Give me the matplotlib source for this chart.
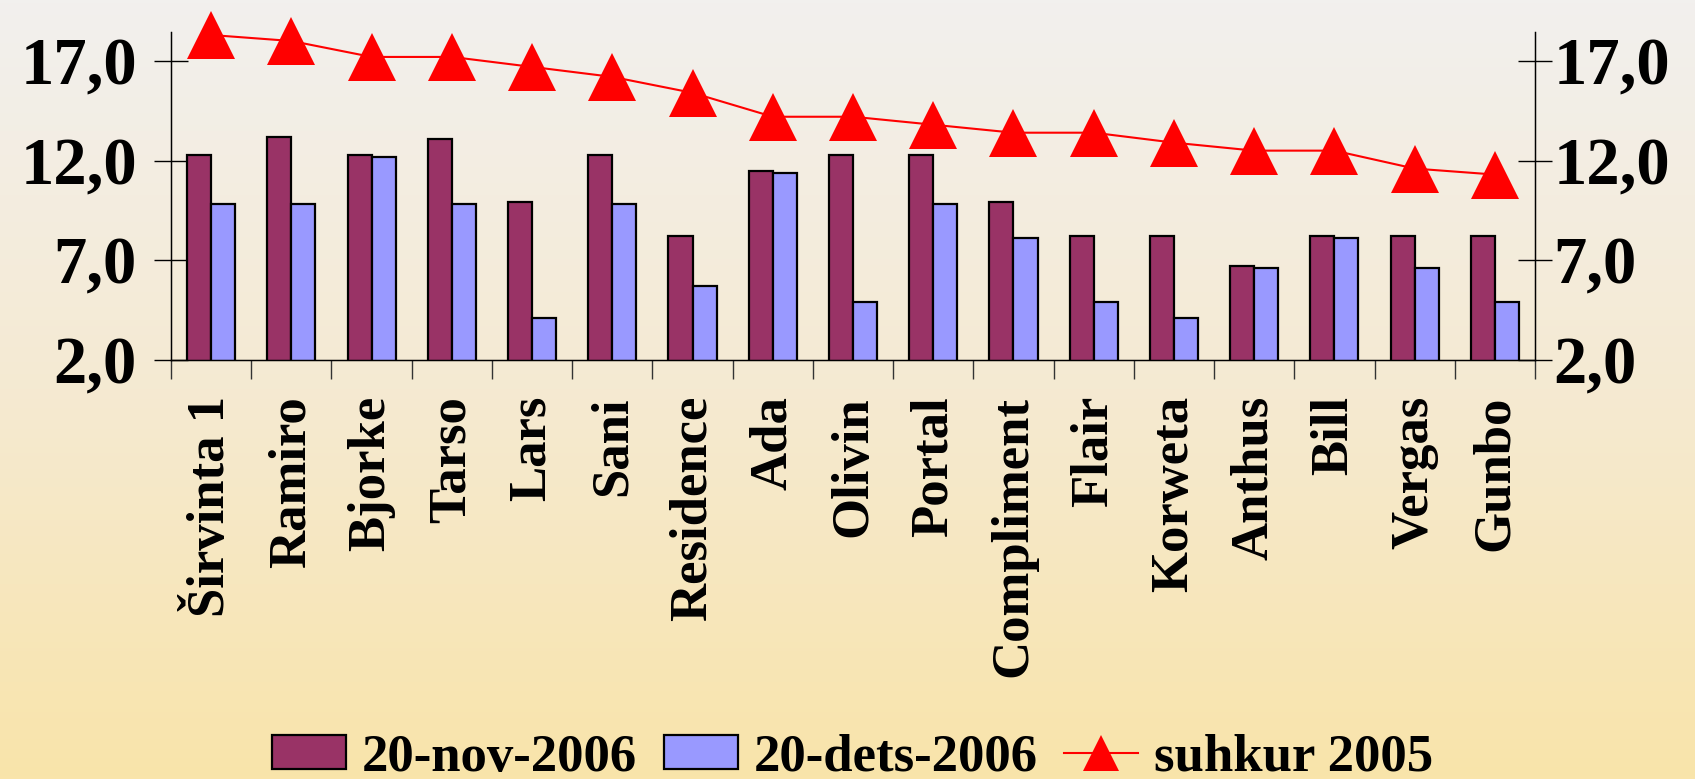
import numpy as np
import matplotlib
matplotlib.use('Agg')
import matplotlib.pyplot as plt
from matplotlib.colors import LinearSegmentedColormap
from matplotlib.lines import Line2D
from matplotlib.patches import Patch

categories = ["Širvinta 1", "Ramiro", "Bjorke", "Tarso", "Lars", "Sani", "Residence",
              "Ada", "Olivin", "Portal", "Compliment", "Flair", "Korweta", "Anthus",
              "Bill", "Vergas", "Gunbo"]
nov_2006 = [12.3, 13.2, 12.3, 13.1, 9.9, 12.3, 8.2, 11.5, 12.3, 12.3, 9.9, 8.2, 8.2, 6.7, 8.2, 8.2, 8.2]
dets_2006 = [9.8, 9.8, 12.2, 9.8, 4.1, 9.8, 5.7, 11.4, 4.9, 9.8, 8.1, 4.9, 4.1, 6.6, 8.1, 6.6, 4.9]
suhkur_2005 = [18.3, 18.0, 17.2, 17.2, 16.7, 16.2, 15.4, 14.2, 14.2, 13.8, 13.4, 13.4, 12.9, 12.5, 12.5, 11.6, 11.3]
yticks = [2.0, 7.0, 12.0, 17.0]
ytick_labels = ["2,0", "7,0", "12,0", "17,0"]
series_labels = ["20-nov-2006", "20-dets-2006", "suhkur 2005"]

C_NOV = "#993366"
C_DETS = "#9999FF"
C_LINE = "#FF0000"
FONT = "Liberation Serif"

fig = plt.figure(figsize=(16.95, 7.79), dpi=100)

# background gradient
bg = fig.add_axes([0, 0, 1, 1], zorder=-10)
cmap = LinearSegmentedColormap.from_list(
    "bg", [(0.0, (242/255, 240/255, 238/255)),
           (0.5, (245/255, 234/255, 210/255)),
           (1.0, (249/255, 228/255, 170/255))])
grad = np.linspace(0, 1, 256).reshape(-1, 1)
bg.imshow(grad, aspect="auto", cmap=cmap, extent=[0, 1, 0, 1], origin="upper")
bg.set_axis_off()

ax = fig.add_axes([0.1009, 0.5379, 0.8047, 0.4210])
ax.patch.set_alpha(0)
x = np.arange(len(categories))
w = 0.3
ax.bar(x - w / 2, nov_2006, width=w, bottom=0, color=C_NOV, edgecolor="black", linewidth=1.6, zorder=2)
ax.bar(x + w / 2, dets_2006, width=w, bottom=0, color=C_DETS, edgecolor="black", linewidth=1.6, zorder=2)
ax.plot(x, suhkur_2005, color=C_LINE, linewidth=1.5, marker="^", markersize=34,
        markeredgewidth=0, clip_on=False, zorder=3)

ax.set_xlim(-0.5, len(categories) - 0.5)
ax.set_ylim(2.0, 18.45)

ax.spines["top"].set_visible(False)
for s in ["left", "right", "bottom"]:
    ax.spines[s].set_linewidth(1.0)
    ax.spines[s].set_color("black")

ax.set_xticks(x)
ax.set_xticklabels(categories, rotation=90, fontfamily=FONT, fontweight="bold", fontsize=38)
ax.tick_params(axis="x", which="major", length=0, pad=26)
ax.set_xticks(np.arange(-0.5, len(categories), 1.0), minor=True)
ax.tick_params(axis="x", which="minor", length=14, width=1.0, direction="out", color="#333333")

ax.set_yticks(yticks)
ax.set_yticklabels(ytick_labels, fontfamily=FONT, fontweight="bold", fontsize=48)
ax.tick_params(axis="y", which="major", length=25, width=1.0, direction="inout", pad=12)

ax2 = ax.twinx()
ax2.patch.set_alpha(0)
ax2.set_ylim(ax.get_ylim())
ax2.spines["top"].set_visible(False)
ax2.set_yticks(yticks)
ax2.set_yticklabels(ytick_labels, fontfamily=FONT, fontweight="bold", fontsize=48)
ax2.tick_params(axis="y", which="major", length=25, width=1.0, direction="inout", pad=1)

handles = [Patch(facecolor=C_NOV, edgecolor="black", linewidth=1.6),
           Patch(facecolor=C_DETS, edgecolor="black", linewidth=1.6),
           Line2D([0], [0], color=C_LINE, linewidth=1.5, marker="^", markersize=26, markeredgewidth=0)]
leg = fig.legend(handles, series_labels, loc="center", bbox_to_anchor=(0.503, 0.027),
                 ncol=3, frameon=False, prop={"family": FONT, "weight": "bold", "size": 38},
                 handlelength=1.4, handleheight=0.62, handletextpad=0.3, columnspacing=0.5,
                 borderpad=0)

fig.savefig("out.png", dpi=100)
